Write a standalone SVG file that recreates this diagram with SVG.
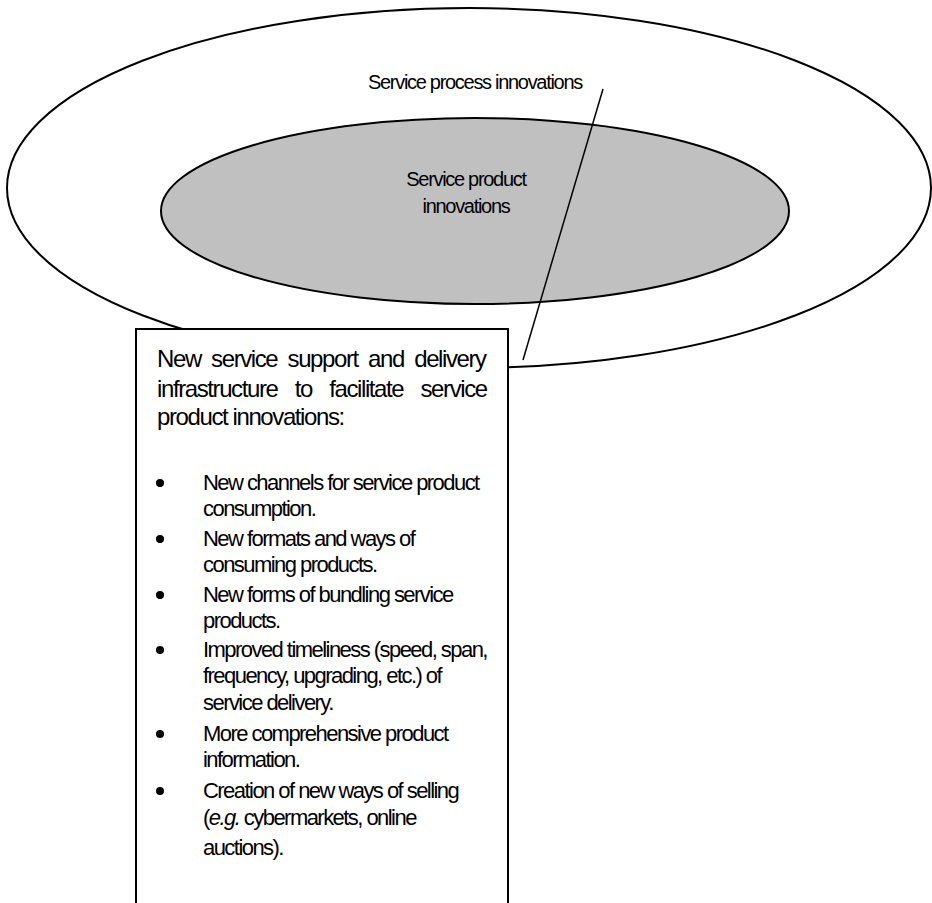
<svg xmlns="http://www.w3.org/2000/svg" width="932" height="903" viewBox="0 0 932 903">
<style>
.t{font-family:"Liberation Sans",Arial,sans-serif;fill:#000}
.lbl{font-size:20px;letter-spacing:-1.3px}
.hd{font-size:24px;letter-spacing:-1.4px}
.bl{font-size:22px;letter-spacing:-1.55px}
.shape{stroke:#000;stroke-width:2}
</style>
<rect width="932" height="903" fill="#fff"/>
<g id="outer">
<ellipse class="shape" cx="469" cy="188" rx="462" ry="180" fill="#fff"/>
<text class="t lbl" x="368" y="89">Service process innovations</text>
</g>
<g id="inner">
<ellipse class="shape" cx="475" cy="211" rx="314" ry="93" fill="#c0c0c0"/>
<text class="t lbl" x="466" y="186" text-anchor="middle">Service product</text>
<text class="t lbl" x="466" y="213" text-anchor="middle">innovations</text>
</g>
<g id="connectors">
<line x1="603" y1="89" x2="523" y2="360" stroke="#000" stroke-width="1.5"/>
</g>
<g id="box">
<rect class="shape" x="136" y="329" width="372" height="600" fill="#fff"/>
<text class="t hd" x="157" y="367" word-spacing="5">New service support and delivery</text>
<text class="t hd" x="157" y="397" word-spacing="12">infrastructure to facilitate service</text>
<text class="t hd" x="157" y="425">product innovations:</text>
<g fill="#000">
<circle cx="160" cy="483" r="4"/>
<circle cx="160" cy="539" r="4"/>
<circle cx="160" cy="595" r="4"/>
<circle cx="160" cy="650" r="4"/>
<circle cx="160" cy="734" r="4"/>
<circle cx="160" cy="791" r="4"/>
</g>
<text class="t bl" x="203" y="490">New channels for service product</text>
<text class="t bl" x="203" y="516">consumption.</text>
<text class="t bl" x="203" y="546">New formats and ways of</text>
<text class="t bl" x="203" y="572">consuming products.</text>
<text class="t bl" x="203" y="602">New forms of bundling service</text>
<text class="t bl" x="203" y="628">products.</text>
<text class="t bl" x="203" y="657">Improved timeliness (speed, span,</text>
<text class="t bl" x="203" y="683">frequency, upgrading, etc.) of</text>
<text class="t bl" x="203" y="710">service delivery.</text>
<text class="t bl" x="203" y="741">More comprehensive product</text>
<text class="t bl" x="203" y="767">information.</text>
<text class="t bl" x="203" y="798">Creation of new ways of selling</text>
<text class="t bl" x="203" y="825">(<tspan font-style="italic">e.g.</tspan> cybermarkets, online</text>
<text class="t bl" x="203" y="855">auctions).</text>
</g>
</svg>
